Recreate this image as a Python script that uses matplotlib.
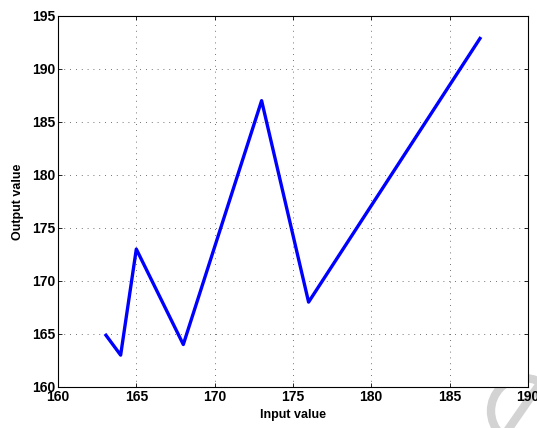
import matplotlib
matplotlib.use('Agg')
import matplotlib.pyplot as plt
from matplotlib.patches import Circle
from matplotlib.lines import Line2D

# data
x_vals = [163, 164, 165, 168, 173, 176, 187]
y_vals = [165, 163, 173, 164, 187, 168, 193]
x_ticks = [160, 165, 170, 175, 180, 185, 190]
y_ticks = [160, 165, 170, 175, 180, 185, 190, 195]

plt.rcParams['font.family'] = ['Liberation Sans', 'DejaVu Sans']
plt.rcParams['font.weight'] = 'bold'

fig = plt.figure(figsize=(5.37, 4.28), dpi=100)
ax = fig.add_axes([0.108, 0.096, 0.875, 0.867])
ax.plot(x_vals, y_vals, color='#0000ff', lw=2.4, solid_capstyle='butt')
ax.set_xlim(160, 190)
ax.set_ylim(160, 195)
ax.set_xticks(x_ticks)
ax.set_yticks(y_ticks)
ax.set_xticklabels([str(t) for t in x_ticks], fontweight='bold', fontsize=10)
ax.set_yticklabels([str(t) for t in y_ticks], fontweight='bold', fontsize=10)
ax.grid(True, linestyle=(0, (1, 6)), color='#444444', lw=0.6)
ax.tick_params(direction='in', top=True, right=True, length=3, width=0.6, pad=2)
for s in ax.spines.values():
    s.set_linewidth(0.8)
ax.set_xlabel('Input value', fontsize=9, fontweight='bold', labelpad=4)
ax.set_ylabel('Output value', fontsize=9, fontweight='bold', labelpad=6)

# grey watermark ring in the corner (display pixels, origin bottom-left), behind the text
ring = Circle((524, 17), 33, transform=None, fill=False, ec='#d3d3d3', lw=6,
              clip_on=False, zorder=-1)
fig.add_artist(ring)
fig.add_artist(Line2D([505, 537], [-6, 40], transform=None, color='#d3d3d3', lw=6, zorder=-1))

fig.savefig('out.png', dpi=100)
